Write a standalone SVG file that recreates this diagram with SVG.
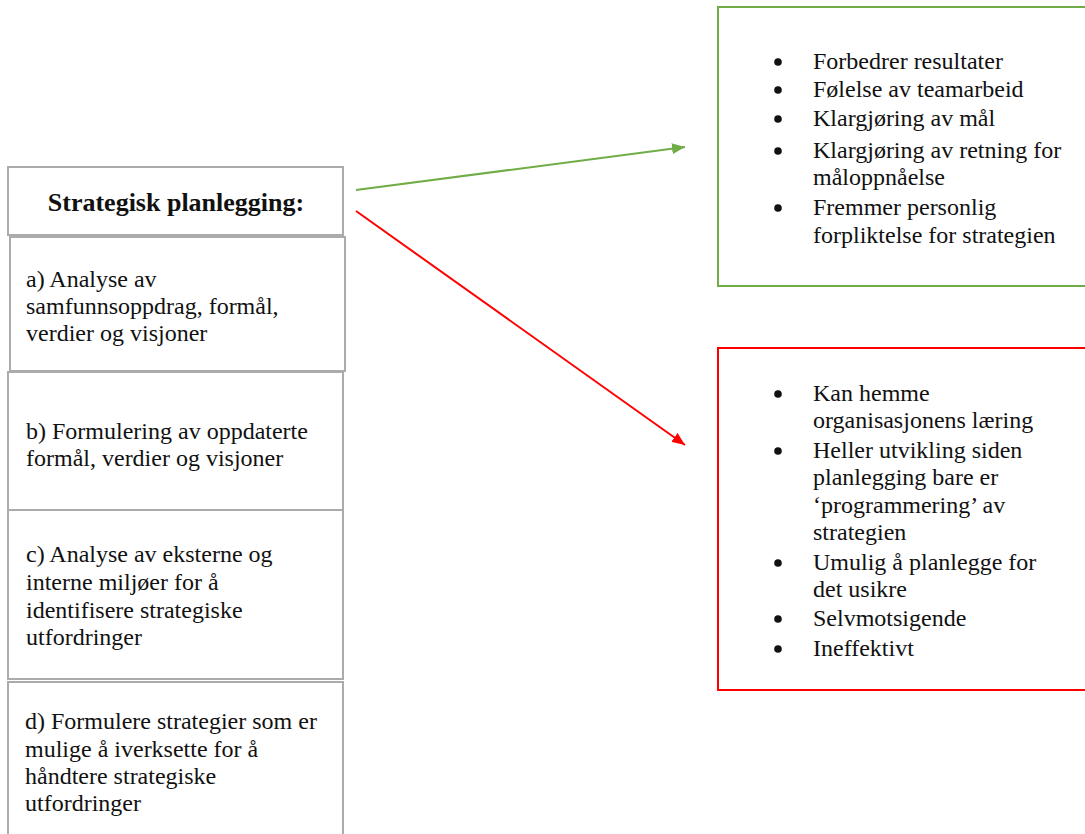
<svg xmlns="http://www.w3.org/2000/svg" width="1085" height="834" viewBox="0 0 1085 834">
<style>
.box{fill:#fff;stroke:#ababab;stroke-width:2}
.t{font-family:"Liberation Serif","Times New Roman",serif;font-size:24px;fill:#111}
.title{font-family:"Liberation Serif","Times New Roman",serif;font-size:26px;font-weight:bold;fill:#111;text-anchor:middle}
.dot{fill:#111}
</style>
<defs>
<marker id="ag" markerUnits="userSpaceOnUse" markerWidth="13" markerHeight="11" refX="13" refY="5.5" orient="auto"><path d="M0,0 L13,5.5 L0,11 z" fill="#70AD47"/></marker>
<marker id="ar" markerUnits="userSpaceOnUse" markerWidth="13" markerHeight="11" refX="13" refY="5.5" orient="auto"><path d="M0,0 L13,5.5 L0,11 z" fill="#FF0000"/></marker>
</defs>
<rect width="1085" height="834" fill="#fff"/>
<g id="title">
<rect class="box" x="8" y="167" width="335" height="68"/>
<text class="title" x="176" y="211">Strategisk planlegging:</text>
</g>
<g id="step-a">
<rect class="box" x="10" y="237" width="335" height="134"/>
<text class="t" x="26" y="287">a) Analyse av</text>
<text class="t" x="26" y="314">samfunnsoppdrag, formål,</text>
<text class="t" x="26" y="341">verdier og visjoner</text>
</g>
<g id="step-b">
<rect class="box" x="8" y="372" width="335" height="138"/>
<text class="t" x="26" y="439">b) Formulering av oppdaterte</text>
<text class="t" x="26" y="466">formål, verdier og visjoner</text>
</g>
<g id="step-c">
<rect class="box" x="8" y="510" width="335" height="169"/>
<text class="t" x="26" y="562">c) Analyse av eksterne og</text>
<text class="t" x="26" y="590">interne miljøer for å</text>
<text class="t" x="26" y="618">identifisere strategiske</text>
<text class="t" x="26" y="645">utfordringer</text>
</g>
<g id="step-d">
<rect class="box" x="8" y="682" width="335" height="160"/>
<text class="t" x="25" y="729">d) Formulere strategier som er</text>
<text class="t" x="25" y="757">mulige å iverksette for å</text>
<text class="t" x="25" y="784">håndtere strategiske</text>
<text class="t" x="25" y="811">utfordringer</text>
</g>
<g id="fordeler">
<rect x="718" y="7" width="380" height="279" fill="#fff" stroke="#70AD47" stroke-width="2"/>
<circle class="dot" cx="778" cy="62" r="3.8"/>
<text class="t" x="813" y="69">Forbedrer resultater</text>
<circle class="dot" cx="778" cy="90" r="3.8"/>
<text class="t" x="813" y="97">Følelse av teamarbeid</text>
<circle class="dot" cx="778" cy="119" r="3.8"/>
<text class="t" x="813" y="126">Klargjøring av mål</text>
<circle class="dot" cx="778" cy="151" r="3.8"/>
<text class="t" x="813" y="158">Klargjøring av retning for</text>
<text class="t" x="813" y="185">måloppnåelse</text>
<circle class="dot" cx="778" cy="208" r="3.8"/>
<text class="t" x="813" y="215">Fremmer personlig</text>
<text class="t" x="813" y="243">forpliktelse for strategien</text>
</g>
<g id="ulemper">
<rect x="718" y="348" width="380" height="342" fill="#fff" stroke="#FF0000" stroke-width="2"/>
<circle class="dot" cx="778" cy="394" r="3.8"/>
<text class="t" x="813" y="401">Kan hemme</text>
<text class="t" x="813" y="428">organisasjonens læring</text>
<circle class="dot" cx="778" cy="451" r="3.8"/>
<text class="t" x="813" y="458">Heller utvikling siden</text>
<text class="t" x="813" y="485">planlegging bare er</text>
<text class="t" x="813" y="513">‘programmering’ av</text>
<text class="t" x="813" y="540">strategien</text>
<circle class="dot" cx="778" cy="563" r="3.8"/>
<text class="t" x="813" y="570">Umulig å planlegge for</text>
<text class="t" x="813" y="597">det usikre</text>
<circle class="dot" cx="778" cy="619" r="3.8"/>
<text class="t" x="813" y="626">Selvmotsigende</text>
<circle class="dot" cx="778" cy="649" r="3.8"/>
<text class="t" x="813" y="656">Ineffektivt</text>
</g>
<g id="connectors">
<line x1="356" y1="190" x2="685" y2="147" stroke="#70AD47" stroke-width="2" marker-end="url(#ag)"/>
<line x1="356" y1="211" x2="685" y2="445" stroke="#FF0000" stroke-width="2" marker-end="url(#ar)"/>
</g>
</svg>
